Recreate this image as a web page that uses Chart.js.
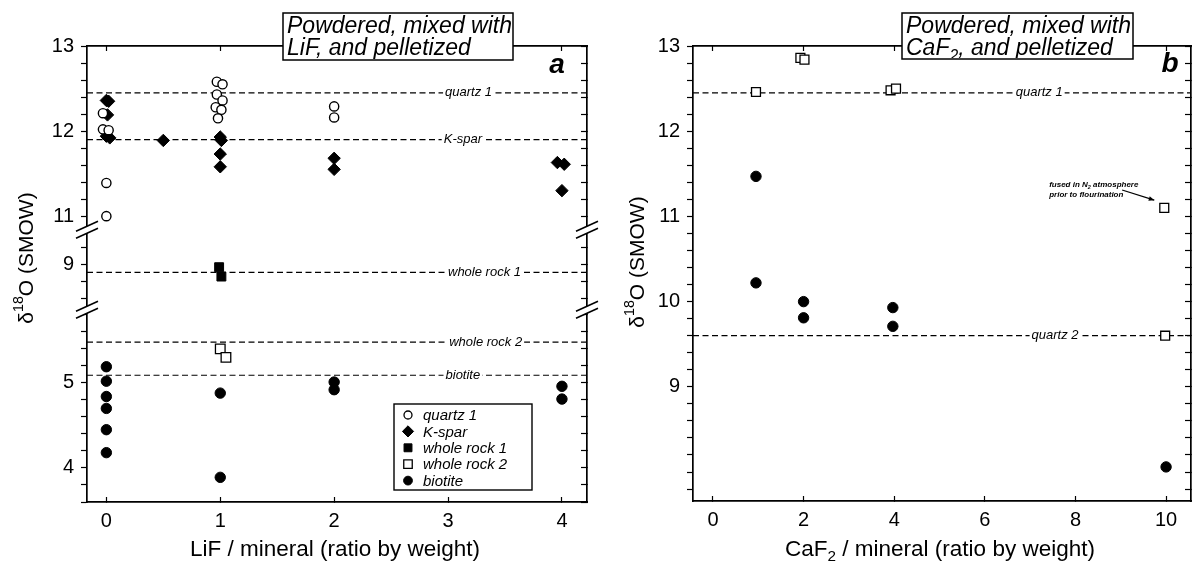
<!DOCTYPE html>
<html>
<head>
<meta charset="utf-8">
<script src="https://cdn.jsdelivr.net/npm/chart.js@4.4.1/dist/chart.umd.min.js"></script>
<style>
  html, body { margin:0; padding:0; background:#fff; }
  #wrap { position:relative; width:1193px; height:565px; overflow:hidden; background:#fff; }
  #boxA { position:absolute; left:0; top:0; width:600px; height:565px; }
  #boxB { position:absolute; left:600px; top:0; width:593px; height:565px; }
</style>
</head>
<body>
<div id="wrap">
  <div id="boxA"><canvas id="chartA" width="600" height="565"></canvas></div>
  <div id="boxB"><canvas id="chartB" width="593" height="565"></canvas></div>
</div>
<script>
const FONT = '"Liberation Sans", Arial, Helvetica, sans-serif';

// ===== Panel a : LiF =====
const lifTitle = [[['Powdered, mixed with', '']], [['LiF, and pelletized', '']]];
const lifLetter = 'a';
const lifXTitle = [['LiF / mineral (ratio by weight)', '']];
const lifYTitle = [['δ', ''], ['18', 'sup'], ['O (SMOW)', '']];
const lifXTickLabels = [0, 1, 2, 3, 4];
const lifYTickLabels = [4, 5, 9, 11, 12, 13];
const lifYPieces = [[10.84, 13], [8.47, 9.41], [3.6, 5.86]];   // broken axis: upper, middle, lower
const lifXRange = [-0.17, 4.22];
const lifSeriesNames = ['quartz 1', 'K-spar', 'whole rock 1', 'whole rock 2', 'biotite'];
const lifQuartz1 = [[-0.03,12.21],[-0.03,12.02],[0.02,12.01],[0,11.39],[0,11.0],
                    [0.97,12.58],[1.02,12.55],[0.97,12.43],[1.02,12.36],[0.96,12.28],[1.01,12.25],[0.98,12.15],
                    [2,12.29],[2,12.16]];
const lifKspar = [[0,12.36],[0.02,12.35],[0.01,12.19],[0,11.94],[0.03,11.92],[0.5,11.89],
                  [1,11.93],[1.01,11.89],[1,11.73],[1,11.58],[2,11.68],[2,11.55],
                  [3.96,11.63],[4.02,11.61],[4,11.3]];
const lifWholeRock1 = [[0.99,8.97],[1.01,8.86]];
const lifWholeRock2 = [[1.0,5.40],[1.05,5.30]];
const lifBiotite = [[0,5.19],[0,5.02],[0,4.84],[0,4.70],[0,4.45],[0,4.18],
                    [1,4.88],[1,3.89],[2,5.01],[2,4.92],[4,4.96],[4,4.81]];
const lifRefNames = ['quartz 1', 'K-spar', 'whole rock 1', 'whole rock 2', 'biotite'];
const lifRefValues = [12.45, 11.9, 8.91, 5.48, 5.09];
const lifRefLabelAt = [3.18, 3.13, 3.32, 3.33, 3.13];

// ===== Panel b : CaF2 =====
const cafTitle = [[['Powdered, mixed with', '']], [['CaF', ''], ['2', 'sub'], [', and pelletized', '']]];
const cafLetter = 'b';
const cafXTitle = [['CaF', ''], ['2', 'sub'], [' / mineral (ratio by weight)', '']];
const cafYTitle = [['δ', ''], ['18', 'sup'], ['O (SMOW)', '']];
const cafXTickLabels = [0, 2, 4, 6, 8, 10];
const cafYTickLabels = [9, 10, 11, 12, 13];
const cafYRange = [7.66, 13];
const cafXRange = [-0.44, 10.55];
const cafSquaresName = 'open squares';
const cafCirclesName = 'filled circles';
const cafSquares = [[0.95,12.46],[1.93,12.86],[2.02,12.84],[3.92,12.48],[4.04,12.5],[9.96,11.1],[9.98,9.6]];
const cafCircles = [[0.95,11.47],[0.95,10.22],[2,10.0],[2,9.81],[3.97,9.93],[3.97,9.71],[10,8.06]];
const cafRefNames = ['quartz 1', 'quartz 2'];
const cafRefValues = [12.45, 9.6];
const cafRefLabelAt = [7.2, 7.55];
const cafNote = [[['fused in N', ''], ['2', 'sub'], [' atmosphere', '']], [['prior to flourination', '']]];
const cafNoteAt = [7.42, 11.34];          // left / first baseline (data units)
const cafNoteLine2 = 11.225;
const cafArrow = [[9.03, 11.31], [9.74, 11.19]];

// ---------- helpers ----------
function fontStr(style, size) { return style + ' ' + size + 'px ' + FONT; }
function runsWidth(ctx, runs, size, style) {
  let w = 0;
  for (const [t, k] of runs) { ctx.font = fontStr(style, k ? size * 0.68 : size); w += ctx.measureText(t).width; }
  return w;
}
function drawRuns(ctx, runs, x, y, size, style) {
  for (const [t, k] of runs) {
    const s = k ? size * 0.68 : size;
    ctx.font = fontStr(style, s);
    const dy = k === 'sub' ? size * 0.24 : (k === 'sup' ? -size * 0.38 : 0);
    ctx.fillText(t, x, y + dy);
    x += ctx.measureText(t).width;
  }
}
function drawPt(ctx, style, radius, fill, x, y, bw) {
  ctx.save();
  ctx.fillStyle = fill; ctx.strokeStyle = '#000'; ctx.lineWidth = bw;
  Chart.helpers.drawPoint(ctx, {pointStyle: style, radius: radius, rotation: 0, borderWidth: bw}, x, y);
  ctx.restore();
}
function tickCb(labels) {
  return function (v) {
    const m = labels.find(l => Math.abs(l - v) < 1e-6);
    return m === undefined ? '' : String(m);
  };
}
function yScale(pos, stack, range, labels, showLabels, width, step) {
  const o = {
    type: 'linear', position: pos, min: range[0], max: range[1],
    grid: {display: true, drawOnChartArea: false, drawTicks: true, tickLength: pos === 'left' ? 6 : -6,
           color: '#000', tickColor: '#000', tickWidth: 1.2},
    border: {display: true, color: '#000', width: 1.7},
    ticks: {display: showLabels, stepSize: step, autoSkip: false, includeBounds: false, maxTicksLimit: 1000,
            font: {family: FONT, size: 20}, color: '#000', padding: 7, callback: tickCb(labels)},
    afterFit: s => { s.width = width; }
  };
  if (stack) { o.stack = stack; o.stackWeight = range[1] - range[0]; }
  return o;
}
function xScale(pos, range, labels, step, height) {
  return {
    type: 'linear', position: pos, min: range[0], max: range[1],
    grid: {display: true, drawOnChartArea: false, drawTicks: true, tickLength: -5, color: '#000', tickColor: '#000', tickWidth: 1.2},
    border: {display: true, color: '#000', width: 1.7},
    ticks: {display: pos === 'bottom', stepSize: step, autoSkip: false, includeBounds: false, maxTicksLimit: 1000,
            font: {family: FONT, size: 20}, color: '#000', padding: 12, callback: tickCb(labels)},
    afterFit: s => { s.height = height; }
  };
}
const openPt = {backgroundColor: '#fff', borderColor: '#000', borderWidth: 1.4};
const blackPt = {backgroundColor: '#000', borderColor: '#000', borderWidth: 1};
const refLineStyle = {type: 'line', borderColor: '#000', borderWidth: 1.2, borderDash: [6, 3.5], pointRadius: 0, fill: false, order: 5};

function titleBox(ctx, lines, x, y, w, h) {
  ctx.save();
  ctx.fillStyle = '#fff'; ctx.fillRect(x, y, w, h);
  ctx.strokeStyle = '#000'; ctx.lineWidth = 1.5; ctx.strokeRect(x, y, w, h);
  ctx.beginPath(); ctx.rect(x + 1, y + 1, w - 2, h - 2); ctx.clip();
  ctx.fillStyle = '#000'; ctx.textBaseline = 'alphabetic'; ctx.textAlign = 'left';
  drawRuns(ctx, lines[0], x + 4, y + 20, 23, 'italic');
  drawRuns(ctx, lines[1], x + 4, y + 42, 23, 'italic');
  ctx.restore();
}
function yTitle(ctx, runs, cx, cy) {
  ctx.save();
  ctx.translate(cx, cy); ctx.rotate(-Math.PI / 2);
  ctx.fillStyle = '#000'; ctx.textAlign = 'left'; ctx.textBaseline = 'middle';
  const w = runsWidth(ctx, runs, 21, 'normal');
  drawRuns(ctx, runs, -w / 2, 0, 21, 'normal');
  ctx.restore();
}
function xTitle(ctx, runs, cx, by) {
  ctx.save();
  ctx.fillStyle = '#000'; ctx.textAlign = 'left'; ctx.textBaseline = 'alphabetic';
  const w = runsWidth(ctx, runs, 22.5, 'normal');
  drawRuns(ctx, runs, cx - w / 2, by, 22.5, 'normal');
  ctx.restore();
}
function letter(ctx, t, cx, by) {
  ctx.save(); ctx.fillStyle = '#000'; ctx.textAlign = 'center'; ctx.textBaseline = 'alphabetic';
  ctx.font = fontStr('italic bold', 28); ctx.fillText(t, cx, by); ctx.restore();
}
function refLabel(ctx, text, x, y) {
  ctx.save();
  ctx.font = fontStr('italic', 13);
  const w = ctx.measureText(text).width;
  ctx.fillStyle = '#fff'; ctx.fillRect(x - w / 2 - 2, y - 7, w + 4, 13);
  ctx.fillStyle = '#000'; ctx.textAlign = 'center'; ctx.textBaseline = 'middle';
  ctx.fillText(text, x, y);
  ctx.restore();
}
function breakMark(ctx, x, y) {
  const dx = 11, dy = 5, g = 3.5;
  ctx.save();
  ctx.fillStyle = '#fff';
  ctx.beginPath();
  ctx.moveTo(x - dx, y + dy - g); ctx.lineTo(x + dx, y - dy - g);
  ctx.lineTo(x + dx, y - dy + g); ctx.lineTo(x - dx, y + dy + g); ctx.closePath(); ctx.fill();
  ctx.strokeStyle = '#000'; ctx.lineWidth = 1.6;
  ctx.beginPath();
  ctx.moveTo(x - dx, y + dy - g); ctx.lineTo(x + dx, y - dy - g);
  ctx.moveTo(x - dx, y + dy + g); ctx.lineTo(x + dx, y - dy + g);
  ctx.stroke();
  ctx.restore();
}

// ---------- Panel a chart ----------
const lifSeries = [lifQuartz1, lifKspar, lifWholeRock1, lifWholeRock2, lifBiotite];
const lifStyles = [
  {pointStyle: 'circle', pointRadius: 4.6, ...openPt},
  {pointStyle: 'rectRot', pointRadius: 6.2, ...blackPt},
  {pointStyle: 'rect', pointRadius: 6.3, ...blackPt},
  {pointStyle: 'rect', pointRadius: 6.8, ...openPt, borderWidth: 1.3},
  {pointStyle: 'circle', pointRadius: 5.2, ...blackPt}
];
function pieceOf(v) { return lifYPieces.findIndex(p => v >= p[0] && v <= p[1]); }
const lifDatasets = [];
lifSeries.forEach((arr, k) => {
  lifYPieces.forEach((p, i) => {
    const pts = arr.filter(d => pieceOf(d[1]) === i).map(d => ({x: d[0], y: d[1]}));
    if (pts.length) lifDatasets.push({type: 'scatter', label: lifSeriesNames[k], data: pts,
      xAxisID: 'x', yAxisID: 'yL' + i, order: 1, ...lifStyles[k]});
  });
});
lifRefValues.forEach((v, k) => {
  lifDatasets.push({label: lifRefNames[k], data: [{x: lifXRange[0], y: v}, {x: lifXRange[1], y: v}],
    xAxisID: 'x', yAxisID: 'yL' + pieceOf(v), ...refLineStyle});
});
const lifScales = {
  x: xScale('bottom', lifXRange, lifXTickLabels, 1, 63),
  xTop: xScale('top', lifXRange, lifXTickLabels, 1, 46)
};
for (let i = lifYPieces.length - 1; i >= 0; i--) lifScales['yL' + i] = yScale('left', 'L', lifYPieces[i], lifYTickLabels, true, 87, 0.2);
for (let i = 0; i < lifYPieces.length; i++) lifScales['yR' + i] = yScale('right', 'R', lifYPieces[i], lifYTickLabels, false, 13, 0.2);

const lifDecor = {
  id: 'lifDecor',
  afterDatasetsDraw(chart) {
    const ctx = chart.ctx, sx = chart.scales.x;
    lifRefValues.forEach((v, k) => {
      const sy = chart.scales['yL' + pieceOf(v)];
      refLabel(ctx, lifRefNames[k], sx.getPixelForValue(lifRefLabelAt[k]), sy.getPixelForValue(v));
    });
  },
  afterDraw(chart) {
    const ctx = chart.ctx, ca = chart.chartArea;
    for (let i = 0; i < lifYPieces.length - 1; i++) {
      const y = chart.scales['yL' + i].bottom;
      breakMark(ctx, ca.left, y); breakMark(ctx, ca.right, y);
    }
    titleBox(ctx, lifTitle, 283, 13, 230, 47);
    letter(ctx, lifLetter, 557, 73);
    yTitle(ctx, lifYTitle, 27, 258);
    xTitle(ctx, lifXTitle, 335, 556);
    // legend
    const lx = ca.left + 307, ly = 404, lw = 138, lh = 86;
    ctx.save();
    ctx.fillStyle = '#fff'; ctx.fillRect(lx, ly, lw, lh);
    ctx.strokeStyle = '#000'; ctx.lineWidth = 1.4; ctx.strokeRect(lx, ly, lw, lh);
    ctx.restore();
    const legR = [4, 5.6, 5.6, 6, 4.4];
    lifSeriesNames.forEach((n, k) => {
      const yy = ly + 11 + k * 16.4;
      const st = lifStyles[k];
      drawPt(ctx, st.pointStyle, legR[k], st.backgroundColor, lx + 14, yy, st.backgroundColor === '#fff' ? 1.3 : 1);
      ctx.save(); ctx.fillStyle = '#000'; ctx.font = fontStr('italic', 15);
      ctx.textAlign = 'left'; ctx.textBaseline = 'middle'; ctx.fillText(n, lx + 29, yy + 1); ctx.restore();
    });
  }
};

new Chart(document.getElementById('chartA'), {
  type: 'scatter',
  data: {datasets: lifDatasets},
  options: {
    responsive: false, animation: false, events: [],
    layout: {padding: 0, autoPadding: false},
    plugins: {legend: {display: false}, tooltip: {enabled: false}, title: {display: false}},
    scales: lifScales
  },
  plugins: [lifDecor]
});

// ---------- Panel b chart ----------
const cafDatasets = [
  {type: 'scatter', label: cafSquaresName, data: cafSquares.map(d => ({x: d[0], y: d[1]})), xAxisID: 'x', yAxisID: 'y',
   order: 1, pointStyle: 'rect', pointRadius: 6.3, ...openPt, borderWidth: 1.3},
  {type: 'scatter', label: cafCirclesName, data: cafCircles.map(d => ({x: d[0], y: d[1]})), xAxisID: 'x', yAxisID: 'y',
   order: 1, pointStyle: 'circle', pointRadius: 5.2, ...blackPt}
];
cafRefValues.forEach((v, k) => {
  cafDatasets.push({label: cafRefNames[k], data: [{x: cafXRange[0], y: v}, {x: cafXRange[1], y: v}],
    xAxisID: 'x', yAxisID: 'y', ...refLineStyle});
});
const cafScales = {
  x: xScale('bottom', cafXRange, cafXTickLabels, 2, 64),
  xTop: xScale('top', cafXRange, cafXTickLabels, 2, 46),
  y: yScale('left', null, cafYRange, cafYTickLabels, true, 93, 0.2),
  yR: yScale('right', null, cafYRange, cafYTickLabels, false, 2, 0.2)
};
const cafDecor = {
  id: 'cafDecor',
  afterDatasetsDraw(chart) {
    const ctx = chart.ctx, sx = chart.scales.x, sy = chart.scales.y;
    cafRefValues.forEach((v, k) => refLabel(ctx, cafRefNames[k], sx.getPixelForValue(cafRefLabelAt[k]), sy.getPixelForValue(v)));
    // note
    ctx.save(); ctx.fillStyle = '#000'; ctx.textAlign = 'left'; ctx.textBaseline = 'alphabetic';
    const nx = sx.getPixelForValue(cafNoteAt[0]);
    drawRuns(ctx, cafNote[0], nx, sy.getPixelForValue(cafNoteAt[1]), 8, 'italic bold');
    drawRuns(ctx, cafNote[1], nx, sy.getPixelForValue(cafNoteLine2), 8, 'italic bold');
    // arrow
    const x1 = sx.getPixelForValue(cafArrow[0][0]), y1 = sy.getPixelForValue(cafArrow[0][1]);
    const x2 = sx.getPixelForValue(cafArrow[1][0]), y2 = sy.getPixelForValue(cafArrow[1][1]);
    ctx.strokeStyle = '#000'; ctx.lineWidth = 1.3;
    ctx.beginPath(); ctx.moveTo(x1, y1); ctx.lineTo(x2, y2); ctx.stroke();
    const a = Math.atan2(y2 - y1, x2 - x1), L = 6;
    ctx.beginPath(); ctx.moveTo(x2, y2);
    ctx.lineTo(x2 - L * Math.cos(a - 0.4), y2 - L * Math.sin(a - 0.4));
    ctx.lineTo(x2 - L * Math.cos(a + 0.4), y2 - L * Math.sin(a + 0.4));
    ctx.closePath(); ctx.fill();
    ctx.restore();
  },
  afterDraw(chart) {
    const ctx = chart.ctx;
    titleBox(ctx, cafTitle, 302, 13, 231, 46);
    letter(ctx, cafLetter, 570, 72);
    yTitle(ctx, cafYTitle, 38, 262);
    xTitle(ctx, cafXTitle, 340, 556);
  }
};
new Chart(document.getElementById('chartB'), {
  type: 'scatter',
  data: {datasets: cafDatasets},
  options: {
    responsive: false, animation: false, events: [],
    layout: {padding: 0, autoPadding: false},
    plugins: {legend: {display: false}, tooltip: {enabled: false}, title: {display: false}},
    scales: cafScales
  },
  plugins: [cafDecor]
});
</script>
</body>
</html>
